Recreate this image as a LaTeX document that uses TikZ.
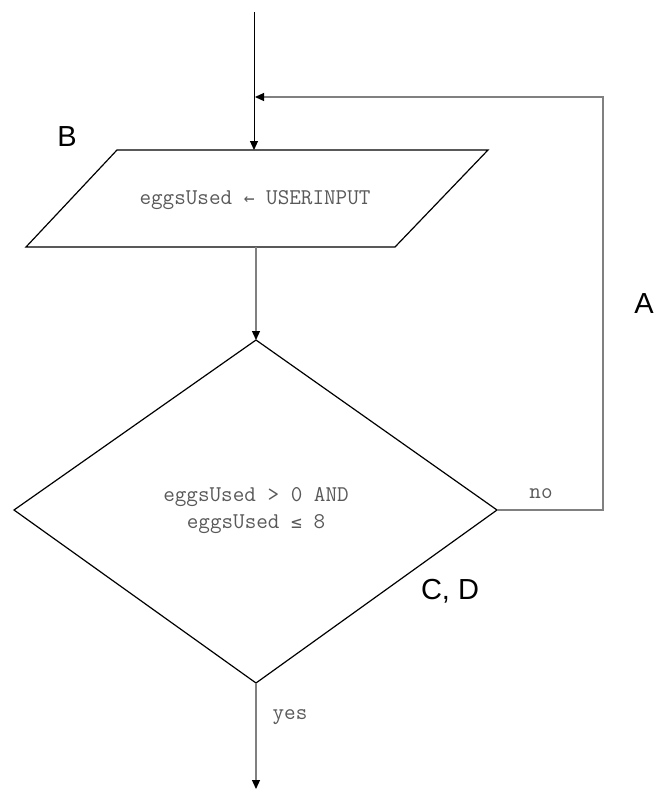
\documentclass[tikz,border=0pt]{standalone}
\usepackage{fontspec}
\setmainfont{Liberation Sans}
\newfontfamily\codefont{Latin Modern Mono}
\newfontfamily\symfont{DejaVu Sans Mono}
\usetikzlibrary{arrows.meta}
\begin{document}
\begin{tikzpicture}[x=1pt,y=-1pt,
  shapeline/.style={draw=black,line width=1.2pt,line join=miter},
  conn/.style={draw=black!50,line width=1.2pt},
  tip/.style={-{Triangle[length=9pt,width=8pt,fill=black,color=black]}},
  code/.style={font=\codefont\fontsize{22.5}{27}\selectfont,text=black!65,align=center,inner sep=0pt},
  tag/.style={font=\fontsize{29}{32}\selectfont,text=black,inner sep=0pt}]
\useasboundingbox (0,0) rectangle (668,790);
% coordinates
\coordinate (start) at (254,12);
\coordinate (pTop) at (254,150);
\coordinate (pBot) at (256,247);
\coordinate (dTop) at (256,340);
\coordinate (dRight) at (497,510);
\coordinate (dBot) at (256,683);
\coordinate (loopR) at (603,510);
\coordinate (loopTR) at (603,97);
\coordinate (loopEnd) at (255,97);
\coordinate (exit) at (256,789);
% parallelogram
\path[shapeline] (117,150) -- (488,150) -- (395,247) -- (26,247) -- cycle;
\node[code] (input) at (255,200) {eggsUsed {\symfont\fontsize{18}{27}\selectfont←} USERINPUT};
% diamond
\path[shapeline] (dTop) -- (dRight) -- (dBot) -- (14,510) -- cycle;
\node[code] (cond) at (256,511) {eggsUsed > 0 AND\\eggsUsed {\symfont\fontsize{18}{27}\selectfont≤} 8};
% connectors
\draw[line width=1pt,tip] (start) -- (pTop);
\draw[conn,tip] (pBot) -- (dTop);
\draw[conn,tip] (dRight) -- (loopR) -- (loopTR) -- (loopEnd);
\draw[conn,tip] (dBot) -- (exit);
% labels
\node[code] (no) at (541,494) {no};
\node[code] (yes) at (290,717) {yes};
\node[tag] (B) at (67,137) {B};
\node[tag] (A) at (644,304) {A};
\node[tag] (CD) at (450,591) {C, D};
\end{tikzpicture}
\end{document}
